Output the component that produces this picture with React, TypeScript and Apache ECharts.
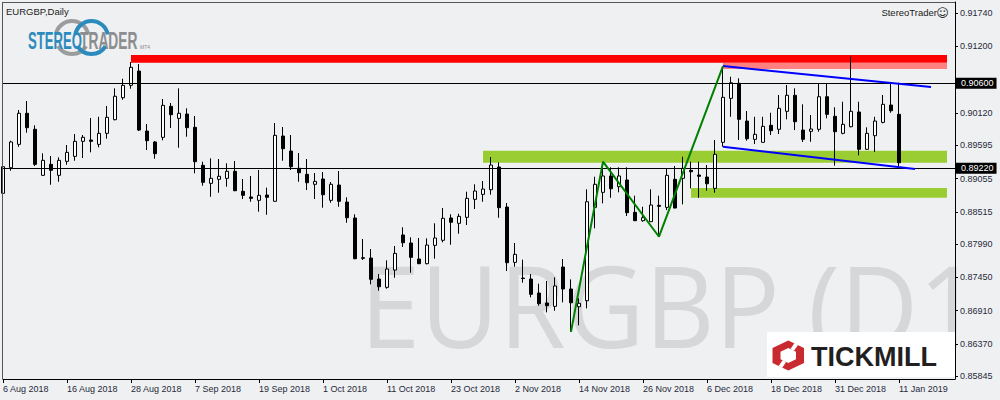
import { useEffect, useRef } from "react";
import * as echarts from "echarts";

// ---------- data ----------
const dates: string[] = [
  "2018-08-06","2018-08-07","2018-08-08","2018-08-09","2018-08-10","2018-08-13","2018-08-14","2018-08-15","2018-08-16","2018-08-17",
  "2018-08-20","2018-08-21","2018-08-22","2018-08-23","2018-08-24","2018-08-27","2018-08-28","2018-08-29","2018-08-30","2018-08-31",
  "2018-09-03","2018-09-04","2018-09-05","2018-09-06","2018-09-07","2018-09-10","2018-09-11","2018-09-12","2018-09-13","2018-09-14",
  "2018-09-17","2018-09-18","2018-09-19","2018-09-20","2018-09-21","2018-09-24","2018-09-25","2018-09-26","2018-09-27","2018-09-28",
  "2018-10-01","2018-10-02","2018-10-03","2018-10-04","2018-10-05","2018-10-08","2018-10-09","2018-10-10","2018-10-11","2018-10-12",
  "2018-10-15","2018-10-16","2018-10-17","2018-10-18","2018-10-19","2018-10-22","2018-10-23","2018-10-24","2018-10-25","2018-10-26",
  "2018-10-29","2018-10-30","2018-10-31",
  "2018-11-01","2018-11-02","2018-11-05","2018-11-06","2018-11-07","2018-11-08","2018-11-09","2018-11-12","2018-11-13","2018-11-14",
  "2018-11-15","2018-11-16","2018-11-19","2018-11-20","2018-11-21","2018-11-22","2018-11-23","2018-11-26","2018-11-27","2018-11-28",
  "2018-11-29","2018-11-30",
  "2018-12-03","2018-12-04","2018-12-05","2018-12-06","2018-12-07","2018-12-10","2018-12-11","2018-12-12","2018-12-13","2018-12-14",
  "2018-12-17","2018-12-18","2018-12-19","2018-12-20","2018-12-21","2018-12-24","2018-12-26","2018-12-27","2018-12-28","2018-12-31",
  "2019-01-02","2019-01-03","2019-01-04","2019-01-07","2019-01-08","2019-01-09","2019-01-10","2019-01-11",
];
// empty future slots on the right of the chart
const futureSlots: string[] = ["", "", "", "", "", "", ""];

// [open, close, low, high]
const ohlc: number[][] = [
  [0.88815,0.89247,0.88787,0.89367],[0.89230,0.89648,0.89182,0.89669],[0.89610,0.90114,0.89571,0.90167],[0.90114,0.89880,0.89799,0.90313],
  [0.89854,0.89285,0.89258,0.89919],[0.89107,0.89350,0.89100,0.89464],[0.89285,0.89188,0.88954,0.89420],[0.89107,0.89350,0.89003,0.89399],
  [0.89334,0.89480,0.89279,0.89599],[0.89415,0.89659,0.89344,0.89777],[0.89659,0.89724,0.89388,0.89761],[0.89680,0.89659,0.89480,0.90037],
  [0.89610,0.89789,0.89561,0.90058],[0.89789,0.90049,0.89701,0.90232],[0.90010,0.90390,0.90000,0.90519],[0.90367,0.90568,0.90334,0.90675],
  [0.90568,0.90860,0.90513,0.90946],[0.90800,0.89842,0.89826,0.90914],[0.89826,0.89669,0.89518,0.89940],[0.89648,0.89458,0.89376,0.89664],
  [0.89724,0.90243,0.89675,0.90346],[0.90227,0.90091,0.89875,0.90281],[0.90032,0.90114,0.89555,0.90519],[0.90102,0.89880,0.89734,0.90195],
  [0.89886,0.89328,0.89139,0.90070],[0.89269,0.88993,0.88938,0.89328],[0.88977,0.89058,0.88759,0.89383],[0.89042,0.89091,0.88824,0.89371],
  [0.89058,0.89172,0.88922,0.89302],[0.89172,0.88857,0.88850,0.89339],[0.88847,0.88782,0.88722,0.89047],[0.88755,0.88733,0.88678,0.89096],
  [0.88701,0.88782,0.88516,0.89193],[0.88787,0.88750,0.88467,0.88906],[0.88685,0.89756,0.88680,0.89956],[0.89745,0.89539,0.89344,0.89891],
  [0.89501,0.89247,0.89193,0.89761],[0.89221,0.89149,0.89003,0.89469],[0.89123,0.88987,0.88868,0.89371],[0.88961,0.89009,0.88722,0.89144],
  [0.89047,0.88792,0.88581,0.89160],[0.88701,0.88961,0.88662,0.88998],[0.88949,0.88685,0.88597,0.89177],[0.88673,0.88418,0.88337,0.88750],
  [0.88414,0.87753,0.87745,0.88474],[0.87769,0.87759,0.87732,0.88073],[0.87764,0.87418,0.87337,0.87910],[0.87423,0.87298,0.87233,0.87504],
  [0.87288,0.87586,0.87266,0.87727],[0.87569,0.87840,0.87444,0.87959],[0.88138,0.88012,0.87943,0.88263],[0.88008,0.87775,0.87525,0.88100],
  [0.87748,0.87672,0.87665,0.88089],[0.87672,0.87975,0.87662,0.88084],[0.87970,0.88089,0.87753,0.88328],[0.88052,0.88409,0.88019,0.88576],
  [0.88414,0.88344,0.87980,0.88474],[0.88328,0.88441,0.88159,0.88483],[0.88425,0.88733,0.88300,0.88841],[0.88717,0.88852,0.88560,0.88961],
  [0.88798,0.88884,0.88678,0.89014],[0.88873,0.89274,0.88792,0.89404],[0.89242,0.88581,0.88418,0.89318],[0.88592,0.87688,0.87553,0.88657],
  [0.87694,0.87824,0.87623,0.88008],[0.87439,0.87431,0.87363,0.87737],[0.87423,0.87175,0.87126,0.87504],[0.87196,0.87022,0.86990,0.87347],
  [0.87034,0.86990,0.86882,0.87391],[0.86980,0.87310,0.86908,0.87451],[0.87618,0.87261,0.87045,0.87748],[0.87261,0.87038,0.86568,0.87418],
  [0.86973,0.87029,0.86671,0.87110],[0.87071,0.88678,0.86947,0.88880],[0.88587,0.88961,0.88246,0.89084],[0.88831,0.89096,0.88652,0.89237],
  [0.89096,0.88889,0.88743,0.89237],[0.88922,0.89096,0.88831,0.89237],[0.89031,0.88500,0.88446,0.89237],[0.88506,0.88370,0.88365,0.88776],
  [0.88370,0.88418,0.88354,0.88597],[0.88354,0.88625,0.88350,0.88880],[0.88620,0.88604,0.88110,0.88776],[0.88587,0.89107,0.88543,0.89220],
  [0.89042,0.88576,0.88570,0.89258],[0.89058,0.89220,0.88636,0.89409],[0.89188,0.89165,0.88896,0.89328],[0.89112,0.89091,0.88743,0.89328],
  [0.89079,0.88970,0.88857,0.89274],[0.88896,0.89448,0.88824,0.89680],[0.89643,0.90373,0.89571,0.90881],[0.90357,0.90610,0.90058,0.90708],
  [0.90601,0.90016,0.89680,0.90682],[0.89988,0.89701,0.89669,0.90151],[0.89691,0.89773,0.89615,0.90058],[0.89643,0.89902,0.89635,0.90058],
  [0.89919,0.89831,0.89761,0.90123],[0.89854,0.90195,0.89777,0.90411],[0.90146,0.90406,0.90016,0.90573],[0.90406,0.89977,0.89842,0.90519],
  [0.89842,0.89691,0.89648,0.90260],[0.89821,0.89859,0.89652,0.90086],[0.89854,0.90383,0.89815,0.90601],[0.90383,0.90097,0.90032,0.90601],
  [0.90065,0.89815,0.89263,0.90211],[0.89789,0.89935,0.89773,0.90302],[0.89896,0.90146,0.89886,0.91032],[0.90135,0.89529,0.89432,0.90302],
  [0.89529,0.89789,0.89518,0.89886],[0.89750,0.89988,0.89485,0.90058],[0.89967,0.90260,0.89951,0.90411],[0.90248,0.90156,0.90123,0.90601],
  [0.90097,0.89311,0.89247,0.90610],
];

// y-axis tick marks (0.90660 label is hidden behind the 0.90600 price box)
const priceTicks: number[] = [0.9174, 0.912, 0.9066, 0.9012, 0.89595, 0.89055, 0.88515, 0.8799, 0.8745, 0.8691, 0.8637, 0.85845];
const priceLabels: number[] = [0.9174, 0.912, 0.9012, 0.89595, 0.89055, 0.88515, 0.8799, 0.8745, 0.8691, 0.8637, 0.85845];
const levelLines: number[] = [0.906, 0.8922];

// zones: start slot, end slot, upper price, lower price
const zoneFrom: number[] = [16, 90, 60, 86];
const zoneTo: number[] = [118, 118, 118, 118];
const zoneHigh: number[] = [0.9106, 0.9093, 0.89506, 0.88901];
const zoneLow: number[] = [0.90935, 0.90833, 0.89311, 0.88743];

const channelUpper: number[][] = [[90, 0.90881], [116, 0.9054]];
const channelLower: number[][] = [[90, 0.89571], [114, 0.89209]];
const zigzag: number[][] = [[71, 0.86568], [75, 0.89328], [82, 0.8811], [90, 0.90881]];

const MONTHS = ["Jan","Feb","Mar","Apr","May","Jun","Jul","Aug","Sep","Oct","Nov","Dec"];

// ---------- styles ----------
const BG = "#eff0f2";
const AXIS_TEXT = "#1f2a3a";
const FONT = "Liberation Sans";
const zoneColors = ["#ff0000", "#ff8080", "#9acd32", "#9acd32"];

function fmtDate(v: string) {
  if (!v) return "";
  const [y, m, d] = v.split("-");
  return `${+d} ${MONTHS[+m - 1]} ${y}`;
}
const showTick = (i: number) => i % 8 === 0 && i < dates.length;

export default function App() {
  const ref = useRef<HTMLDivElement>(null);
  useEffect(() => {
    if (!ref.current) return;
    const chart = echarts.init(ref.current, undefined, { renderer: "svg" });
    const option: any = {
      animation: false,
      backgroundColor: BG,
      grid: { left: 3, right: 45, top: 2, bottom: 21, show: false },
      xAxis: {
        type: "category",
        data: [...dates, ...futureSlots],
        boundaryGap: false,
        axisLine: { show: true, lineStyle: { color: "#000", width: 1 } },
        axisTick: { show: true, interval: (i: number) => showTick(i), length: 4, lineStyle: { color: "#000" } },
        axisLabel: {
          interval: (i: number) => showTick(i),
          formatter: fmtDate,
          align: "left",
          margin: 5,
          fontSize: 9,
          fontFamily: FONT,
          color: AXIS_TEXT,
        },
        splitLine: { show: false },
      },
      yAxis: {
        type: "value",
        position: "right",
        min: 0.858,
        max: 0.91921,
        scale: true,
        splitLine: { show: false },
        axisLine: { show: true, lineStyle: { color: "#000", width: 1 } },
        axisTick: { show: true, length: 3, customValues: priceTicks, lineStyle: { color: "#000" } },
        axisLabel: {
          customValues: priceLabels,
          formatter: (v: number) => v.toFixed(5),
          margin: 5,
          fontSize: 9,
          fontFamily: FONT,
          color: AXIS_TEXT,
        },
      },
      series: [
        {
          type: "custom",
          z: 1,
          silent: true,
          data: zoneFrom.map((f, i) => [f, zoneTo[i], zoneHigh[i], zoneLow[i]]),
          encode: { x: [0, 1], y: [2, 3] },
          renderItem: (params: any, api: any) => {
            const p0 = api.coord([api.value(0), api.value(2)]);
            const p1 = api.coord([api.value(1), api.value(3)]);
            return {
              type: "rect",
              shape: { x: p0[0], y: p0[1], width: p1[0] - p0[0], height: p1[1] - p0[1] },
              style: { fill: zoneColors[params.dataIndex] },
            };
          },
        },
        {
          type: "candlestick",
          z: 3,
          barWidth: 4,
          data: ohlc,
          itemStyle: {
            color: "#ffffff",
            color0: "#000000",
            borderColor: "#000000",
            borderColor0: "#000000",
            borderWidth: 1,
          },
          markLine: {
            silent: true,
            precision: 5,
            symbol: ["none", "none"],
            lineStyle: { color: "#000", width: 1, type: "solid" },
            label: {
              position: "end",
              distance: 0,
              formatter: (p: any) => Number(p.value).toFixed(5),
              backgroundColor: "#000",
              color: "#fff",
              fontSize: 9,
              fontFamily: FONT,
              padding: [1, 3, 1, 6],
            },
            data: levelLines.map((v) => ({ yAxis: v })),
          },
        },
        {
          type: "line",
          z: 5,
          symbol: "none",
          data: channelUpper,
          lineStyle: { color: "#0000ff", width: 2 },
        },
        {
          type: "line",
          z: 5,
          symbol: "none",
          data: channelLower,
          lineStyle: { color: "#0000ff", width: 2 },
        },
        {
          type: "line",
          z: 5,
          symbol: "none",
          data: zigzag,
          lineStyle: { color: "#008000", width: 2 },
        },
      ],
      graphic: [
        // watermark
        {
          type: "text",
          z: -1,
          silent: true,
          x: 360,
          y: 304,
          scaleX: 0.95,
          style: {
            text: "EURGBP (D1",
            fontSize: 114,
            fontFamily: "Open Sans",
            fontWeight: "normal",
            fill: "#d6d7d9",
            verticalAlign: "middle",
          },
        },
        // frame
        { type: "line", z: 50, shape: { x1: 2.5, y1: 2, x2: 2.5, y2: 379 }, style: { stroke: "#555", lineWidth: 1 } },
        { type: "line", z: 50, shape: { x1: 2, y1: 2.5, x2: 955, y2: 2.5 }, style: { stroke: "#555", lineWidth: 1 } },
        // title
        {
          type: "text", z: 50, x: 6, y: 11.5,
          style: { text: "EURGBP,Daily", fontSize: 9.5, fontFamily: FONT, fill: "#1b1b1b", verticalAlign: "middle" },
        },
        {
          type: "text", z: 50, x: 937, y: 12,
          style: { text: "StereoTrader", fontSize: 9.5, fontFamily: FONT, fill: "#1b1b1b", align: "right", verticalAlign: "middle" },
        },
        {
          type: "text", z: 50, x: 942.5, y: 12.5,
          style: { text: "\u263A", fontSize: 12, fontFamily: "DejaVu Sans", fill: "#1b1b1b", align: "center", verticalAlign: "middle" },
        },
        // StereoTrader logo rings
        { type: "arc", z: 50, shape: { cx: 72, cy: 37.5, r: 16.5, startAngle: 3.32, endAngle: 6.1, clockwise: true }, style: { stroke: "#9a9c9e", lineWidth: 4, fill: "none" } },
        { type: "arc", z: 50, shape: { cx: 72, cy: 37.5, r: 16.5, startAngle: 0.55, endAngle: 2.6, clockwise: true }, style: { stroke: "#9a9c9e", lineWidth: 4, fill: "none" } },
        { type: "arc", z: 51, shape: { cx: 91.5, cy: 37.5, r: 16.5, startAngle: 3.32, endAngle: 6.1, clockwise: true }, style: { stroke: "#2b8bbd", lineWidth: 4, fill: "none" } },
        { type: "arc", z: 51, shape: { cx: 91.5, cy: 37.5, r: 16.5, startAngle: 0.55, endAngle: 2.6, clockwise: true }, style: { stroke: "#2b8bbd", lineWidth: 4, fill: "none" } },
        {
          type: "text", z: 52, x: 28, y: 40.7, scaleX: 0.57,
          style: { text: "STEREO", fontSize: 23, fontWeight: "bold", fontFamily: FONT, fill: "#2b8bbd", verticalAlign: "middle" },
        },
        {
          type: "text", z: 52, x: 80, y: 40.7, scaleX: 0.6,
          style: { text: "TRADER", fontSize: 23, fontWeight: "bold", fontFamily: FONT, fill: "#8b8d8f", verticalAlign: "middle" },
        },
        {
          type: "text", z: 52, x: 140, y: 46.5,
          style: { text: "MT4", fontSize: 5, fontFamily: FONT, fill: "#8b8d8f", verticalAlign: "middle" },
        },
        // Tickmill logo
        { type: "rect", z: 60, shape: { x: 767, y: 332, width: 188, height: 45 }, style: { fill: "#ffffff" } },
        {
          type: "polygon", z: 61,
          shape: { points: [[788.3, 340.5], [804, 348], [804, 363], [788.3, 370.5], [772.5, 363], [772.5, 348]] },
          style: { fill: "#c92a2f" },
        },
        {
          type: "polygon", z: 62,
          shape: { points: [[788.3, 348], [796, 351.7], [796, 359.3], [788.3, 363], [780.5, 359.3], [780.5, 351.7]] },
          style: { fill: "#ffffff" },
        },
        {
          type: "polygon", z: 62,
          shape: { points: [[794.5, 343], [798, 345], [793.8, 351], [790.5, 349]] },
          style: { fill: "#ffffff" },
        },
        {
          type: "polygon", z: 62,
          shape: { points: [[782.1, 368], [778.6, 366], [782.8, 360], [786.1, 362]] },
          style: { fill: "#ffffff" },
        },
        {
          type: "text", z: 62, x: 811, y: 357.3,
          style: { text: "TICKMILL", fontSize: 27, fontWeight: "bold", fontFamily: FONT, fill: "#231f20", verticalAlign: "middle" },
        },
      ],
    };
    chart.setOption(option);
    return () => chart.dispose();
  }, []);
  return (
    <div
      ref={ref}
      style={{ position: "fixed", left: 0, top: 0, width: 1000, height: 400 }}
    />
  );
}
